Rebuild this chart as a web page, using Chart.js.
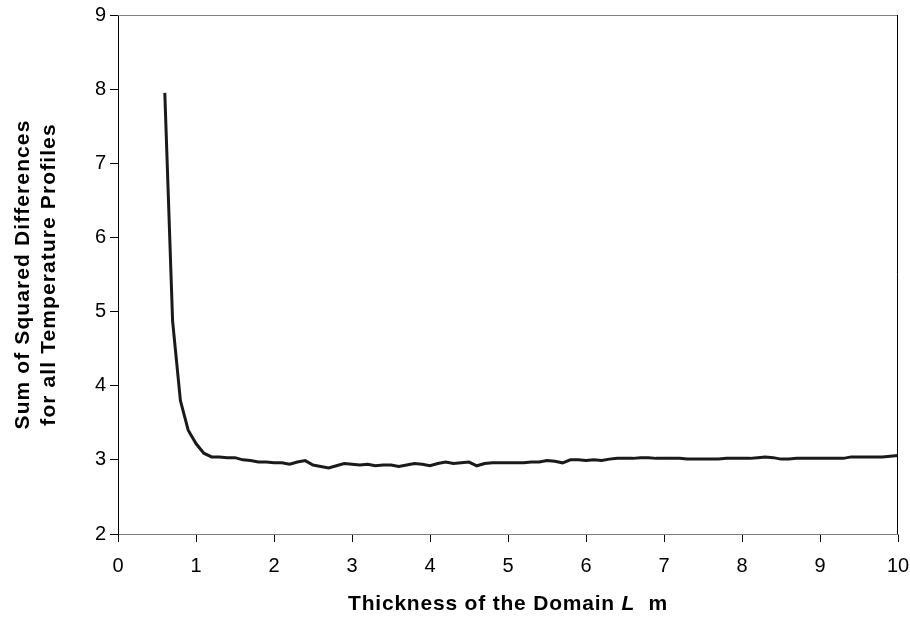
<!DOCTYPE html>
<html>
<head>
<meta charset="utf-8">
<script src="https://cdn.jsdelivr.net/npm/chart.js@4/dist/chart.umd.min.js"></script>
<style>
  body { margin: 0; background: #fff; }
  #wrap { width: 910px; height: 624px; }
</style>
</head>
<body>
<div id="wrap"><canvas id="chart" width="910" height="624"></canvas></div>
<script>
// thickness of the domain L (m)
const thickness = [0.6, 0.7, 0.8, 0.9, 1.0, 1.1, 1.2, 1.3, 1.4, 1.5, 1.6, 1.7, 1.8, 1.9,
  2.0, 2.1, 2.2, 2.3, 2.4, 2.5, 2.6, 2.7, 2.8, 2.9, 3.0, 3.1, 3.2, 3.3, 3.4, 3.5, 3.6, 3.7, 3.8, 3.9,
  4.0, 4.1, 4.2, 4.3, 4.4, 4.5, 4.6, 4.7, 4.8, 4.9, 5.0, 5.1, 5.2, 5.3, 5.4, 5.5, 5.6, 5.7, 5.8, 5.9,
  6.0, 6.1, 6.2, 6.3, 6.4, 6.5, 6.6, 6.7, 6.8, 6.9, 7.0, 7.1, 7.2, 7.3, 7.4, 7.5, 7.6, 7.7, 7.8, 7.9,
  8.0, 8.1, 8.2, 8.3, 8.4, 8.5, 8.6, 8.7, 8.8, 8.9, 9.0, 9.1, 9.2, 9.3, 9.4, 9.5, 9.6, 9.7, 9.8, 9.9, 10.0];

// sum of squared differences
const sumSq = [7.95, 4.87, 3.80, 3.40, 3.22, 3.09, 3.04, 3.04, 3.03, 3.03, 3.00, 2.99, 2.97, 2.97,
  2.96, 2.96, 2.94, 2.97, 2.99, 2.93, 2.91, 2.89, 2.92, 2.95, 2.94, 2.93, 2.94, 2.92, 2.93, 2.93, 2.91, 2.93, 2.95, 2.94,
  2.92, 2.95, 2.97, 2.95, 2.96, 2.97, 2.92, 2.95, 2.96, 2.96, 2.96, 2.96, 2.96, 2.97, 2.97, 2.99, 2.98, 2.96, 3.00, 3.00,
  2.99, 3.00, 2.99, 3.01, 3.02, 3.02, 3.02, 3.03, 3.03, 3.02, 3.02, 3.02, 3.02, 3.01, 3.01, 3.01, 3.01, 3.01, 3.02, 3.02,
  3.02, 3.02, 3.03, 3.04, 3.03, 3.01, 3.01, 3.02, 3.02, 3.02, 3.02, 3.02, 3.02, 3.02, 3.04, 3.04, 3.04, 3.04, 3.04, 3.05, 3.06];

const xTitle = ['Thickness of the Domain ', 'L', '  m'];
const yTitle = ['Sum of Squared Differences', 'for all Temperature Profiles'];

const FONT = '"Liberation Sans", Arial, sans-serif';

// frame on top/right + axis titles drawn by hand
const decorations = {
  id: 'decorations',
  afterDraw(chart) {
    const ctx = chart.ctx;
    const a = chart.chartArea;
    ctx.save();
    ctx.lineWidth = 1;
    ctx.strokeStyle = '#808080';
    ctx.beginPath();
    ctx.moveTo(a.left, a.top + 0.5);
    ctx.lineTo(a.right, a.top + 0.5);
    ctx.stroke();
    ctx.strokeStyle = '#000';
    ctx.beginPath();
    ctx.moveTo(a.right - 0.5, a.top);
    ctx.lineTo(a.right - 0.5, a.bottom);
    ctx.stroke();

    ctx.fillStyle = '#000';
    ctx.textBaseline = 'alphabetic';
    ctx.letterSpacing = '0.8px';
    // x title, with italic L
    const fonts = ['bold 21px ' + FONT, 'italic bold 21px ' + FONT, 'bold 21px ' + FONT];
    let total = 0;
    const widths = xTitle.map((t, i) => { ctx.font = fonts[i]; const w = ctx.measureText(t).width; total += w; return w; });
    let x = (a.left + a.right) / 2 - total / 2;
    xTitle.forEach((t, i) => {
      ctx.font = fonts[i];
      ctx.textAlign = 'left';
      ctx.fillText(t, x, 610);
      x += widths[i];
    });

    // y title
    ctx.letterSpacing = '1.1px';
    ctx.translate(0, (a.top + a.bottom) / 2);
    ctx.rotate(-Math.PI / 2);
    ctx.font = 'bold 21px ' + FONT;
    ctx.textAlign = 'center';
    ctx.fillText(yTitle[0], 0, 29);
    ctx.fillText(yTitle[1], 0, 55);
    ctx.restore();
  }
};

new Chart(document.getElementById('chart'), {
  type: 'line',
  data: {
    datasets: [{
      data: thickness.map((t, i) => ({ x: t, y: sumSq[i] })),
      borderColor: '#1a1a1a',
      borderWidth: 3,
      pointRadius: 0,
      tension: 0,
      fill: false
    }]
  },
  options: {
    responsive: false,
    animation: false,
    layout: { padding: { left: 0, right: 12, top: 15, bottom: 0 } },
    plugins: { legend: { display: false }, tooltip: { enabled: false } },
    scales: {
      x: {
        type: 'linear',
        min: 0,
        max: 10,
        afterFit: s => { s.height = 90; s.paddingLeft = 0; s.paddingRight = 0; },
        border: { color: '#808080', width: 1 },
        grid: { drawOnChartArea: false, tickLength: 8, color: '#000' },
        ticks: { stepSize: 1, color: '#000', padding: 12, maxRotation: 0, font: { family: FONT, size: 20 } }
      },
      y: {
        min: 2,
        max: 9,
        afterFit: s => { s.width = 118; s.paddingTop = 0; s.paddingBottom = 0; },
        border: { color: '#000', width: 1 },
        grid: { drawOnChartArea: false, tickLength: 8, color: '#000' },
        ticks: { stepSize: 1, color: '#000', padding: 4, font: { family: FONT, size: 20 } }
      }
    }
  },
  plugins: [decorations]
});
</script>
</body>
</html>
